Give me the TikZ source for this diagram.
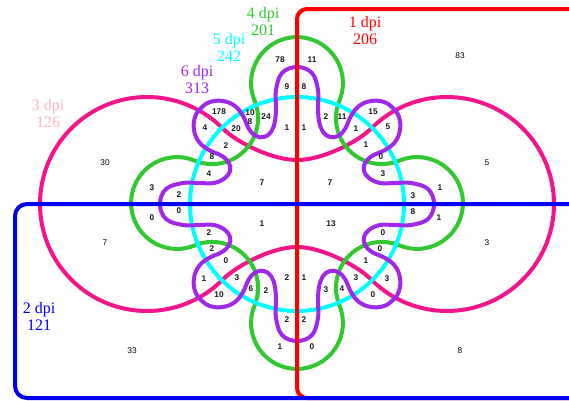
\documentclass[tikz,border=0pt]{standalone}
\usepackage{fontspec}
\setmainfont{Liberation Serif}
\newfontfamily\numfont{Liberation Sans}
\definecolor{cRed}{RGB}{255,0,0}
\definecolor{cBlue}{RGB}{0,0,240}
\definecolor{cPink}{RGB}{245,20,140}
\definecolor{cPinkL}{RGB}{255,182,193}
\definecolor{cGreen}{RGB}{50,200,50}
\definecolor{cCyan}{RGB}{0,255,255}
\definecolor{cPurple}{RGB}{160,40,235}
\definecolor{cNum}{RGB}{25,25,25}
\begin{document}
\begin{tikzpicture}[x=1pt,y=-1pt,
  setline/.style={line width=4pt},
  num/.style={font=\numfont\bfseries\fontsize{8.3}{9}\selectfont, text=cNum, inner sep=0pt},
  numo/.style={font=\numfont\fontsize{8.3}{9}\selectfont, text=black, inner sep=0pt},
  lab/.style={font=\fontsize{16}{17}\selectfont, align=center, inner sep=0pt}]
\useasboundingbox (0,0) rectangle (569,400);
\fill[white] (0,0) rectangle (569,400);
\clip (0,0) rectangle (569,400);

% set 3 (pink dumbbell)
\draw[setline,cPink] (222.66,128.34) .. controls (236.8,142.5) and (272,160) .. (297,160)
  .. controls (322,160) and (357.2,142.5) .. (371.34,128.34)
  arc[start angle=-135,end angle=135,radius=107]
  .. controls (357.2,265.5) and (322,247) .. (297,247)
  .. controls (272,247) and (236.8,265.5) .. (222.66,279.66)
  arc[start angle=45,end angle=315,radius=107] -- cycle;

% set 4 (green)
\draw[setline,cGreen] (399.43,160.57)
  arc[start angle=-112.5,end angle=112.5,radius=45.92]
  arc[start angle=-67.5,end angle=-202.5,radius=45.92]
  arc[start angle=-22.5,end angle=202.5,radius=45.92]
  arc[start angle=22.5,end angle=-112.5,radius=45.92]
  arc[start angle=67.5,end angle=292.5,radius=45.92]
  arc[start angle=112.5,end angle=-22.5,radius=45.92]
  arc[start angle=157.5,end angle=382.5,radius=45.92]
  arc[start angle=202.5,end angle=67.5,radius=45.92] -- cycle;

% set 5 (cyan)
\draw[setline,cCyan] (297,204) circle[radius=107];

% set 6 (purple)
\begin{scope}[shift={(297,204)}]
\draw[setline,cPurple] plot[smooth cycle,tension=0.65] coordinates {
(0,137) (-15,131) (-21,114) (-21,98) (-22,83) (-26,72) (-33,67) (-41,68) (-48,75) (-54,88) (-62,98) (-74,103) (-87,102)
(-96,96) (-102,87) (-103,74) (-98,62) (-88,54) (-75,48) (-68,41) (-67,33) (-72,26) (-83,21) (-98,21) (-114,21) (-131,15)
(-137,0) (-131,-15) (-114,-21) (-98,-21) (-83,-21) (-72,-26) (-67,-33) (-68,-41) (-75,-48) (-88,-54) (-98,-62) (-103,-74) (-102,-87)
(-96,-96) (-87,-102) (-74,-103) (-62,-98) (-54,-88) (-48,-75) (-41,-68) (-33,-67) (-26,-72) (-22,-83) (-21,-98) (-21,-114) (-15,-131)
(0,-137) (15,-131) (21,-114) (21,-98) (22,-83) (26,-72) (33,-67) (41,-68) (48,-75) (54,-88) (62,-98) (74,-103) (87,-102)
(96,-96) (102,-87) (103,-74) (98,-62) (88,-54) (75,-48) (68,-41) (67,-33) (72,-26) (83,-21) (98,-21) (114,-21) (131,-15)
(137,0) (131,15) (114,21) (98,21) (83,21) (72,26) (67,33) (68,41) (75,48) (88,54) (98,62) (103,74) (102,87)
(96,96) (87,102) (74,103) (62,98) (54,88) (48,75) (41,68) (33,67) (26,72) (22,83) (21,98) (21,114) (15,131)};
\end{scope}

% set 1 (red) and set 2 (blue)
\draw[setline,cRed,rounded corners=10] (297,9) rectangle (640,398);
\draw[setline,cBlue,rounded corners=12] (15,204) rectangle (640,398);

% labels
\node[lab,text=cRed] (t1) at (365,31) {1 dpi\\206};
\node[lab,text=cBlue] (t2) at (39,316) {2 dpi\\121};
\node[lab,text=cPinkL] (t3) at (48,114) {3 dpi\\126};
\node[lab,text=cGreen] (t4) at (263,22) {4 dpi\\201};
\node[lab,text=cCyan] (t5) at (229,47) {5 dpi\\242};
\node[lab,text=cPurple] (t6) at (197,80) {6 dpi\\313};

% counts
\node[numo] (o1) at (105,163) {30};
\node[numo] (o2) at (460,56) {83};
\node[numo] (o3) at (487,163) {5};
\node[numo] (o4) at (105,243) {7};
\node[numo] (o5) at (487,243) {3};
\node[numo] (o6) at (132,351) {33};
\node[numo] (o7) at (460,351) {8};

\node[num] (n1) at (280,60) {78};
\node[num] (n2) at (312,60) {11};
\node[num] (n3) at (287,87) {9};
\node[num] (n4) at (304,87) {8};
\node[num] (n5) at (219,112) {178};
\node[num] (n6) at (250,113) {10};
\node[num] (n7) at (250,122) {8};
\node[num] (n8) at (266,117) {24};
\node[num] (n9) at (287,128) {1};
\node[num] (n10) at (304,128) {1};
\node[num] (n11) at (326,117) {2};
\node[num] (n12) at (342,117) {11};
\node[num] (n13) at (373,112) {15};
\node[num] (n14) at (205,128) {4};
\node[num] (n15) at (236,129) {20};
\node[num] (n16) at (356,129) {1};
\node[num] (n17) at (388,127) {5};
\node[num] (n18) at (226,146) {2};
\node[num] (n19) at (366,145) {1};
\node[num] (n20) at (212,157) {8};
\node[num] (n21) at (381,157) {0};
\node[num] (n22) at (209,174) {4};
\node[num] (n23) at (383,174) {3};
\node[num] (n24) at (262,183) {7};
\node[num] (n25) at (330,183) {7};
\node[num] (n26) at (152,188) {3};
\node[num] (n27) at (179,195) {2};
\node[num] (n28) at (179,211) {0};
\node[num] (n29) at (152,218) {0};
\node[num] (n30) at (440,188) {1};
\node[num] (n31) at (413,196) {3};
\node[num] (n32) at (413,212) {8};
\node[num] (n33) at (439,218) {1};
\node[num] (n34) at (262,224) {1};
\node[num] (n35) at (331,224) {13};
\node[num] (n36) at (209,233) {2};
\node[num] (n37) at (383,233) {0};
\node[num] (n38) at (212,249) {2};
\node[num] (n39) at (380,249) {0};
\node[num] (n40) at (226,261) {0};
\node[num] (n41) at (366,261) {1};
\node[num] (n42) at (204,279) {1};
\node[num] (n43) at (237,278) {3};
\node[num] (n44) at (287,278) {2};
\node[num] (n45) at (304,278) {1};
\node[num] (n46) at (356,278) {3};
\node[num] (n47) at (387,279) {3};
\node[num] (n48) at (219,295) {10};
\node[num] (n49) at (373,295) {0};
\node[num] (n50) at (251,289) {6};
\node[num] (n51) at (266,291) {2};
\node[num] (n52) at (326,290) {3};
\node[num] (n53) at (342,289) {4};
\node[num] (n54) at (287,320) {2};
\node[num] (n55) at (304,320) {2};
\node[num] (n56) at (280,347) {1};
\node[num] (n57) at (312,347) {0};
\end{tikzpicture}
\end{document}
